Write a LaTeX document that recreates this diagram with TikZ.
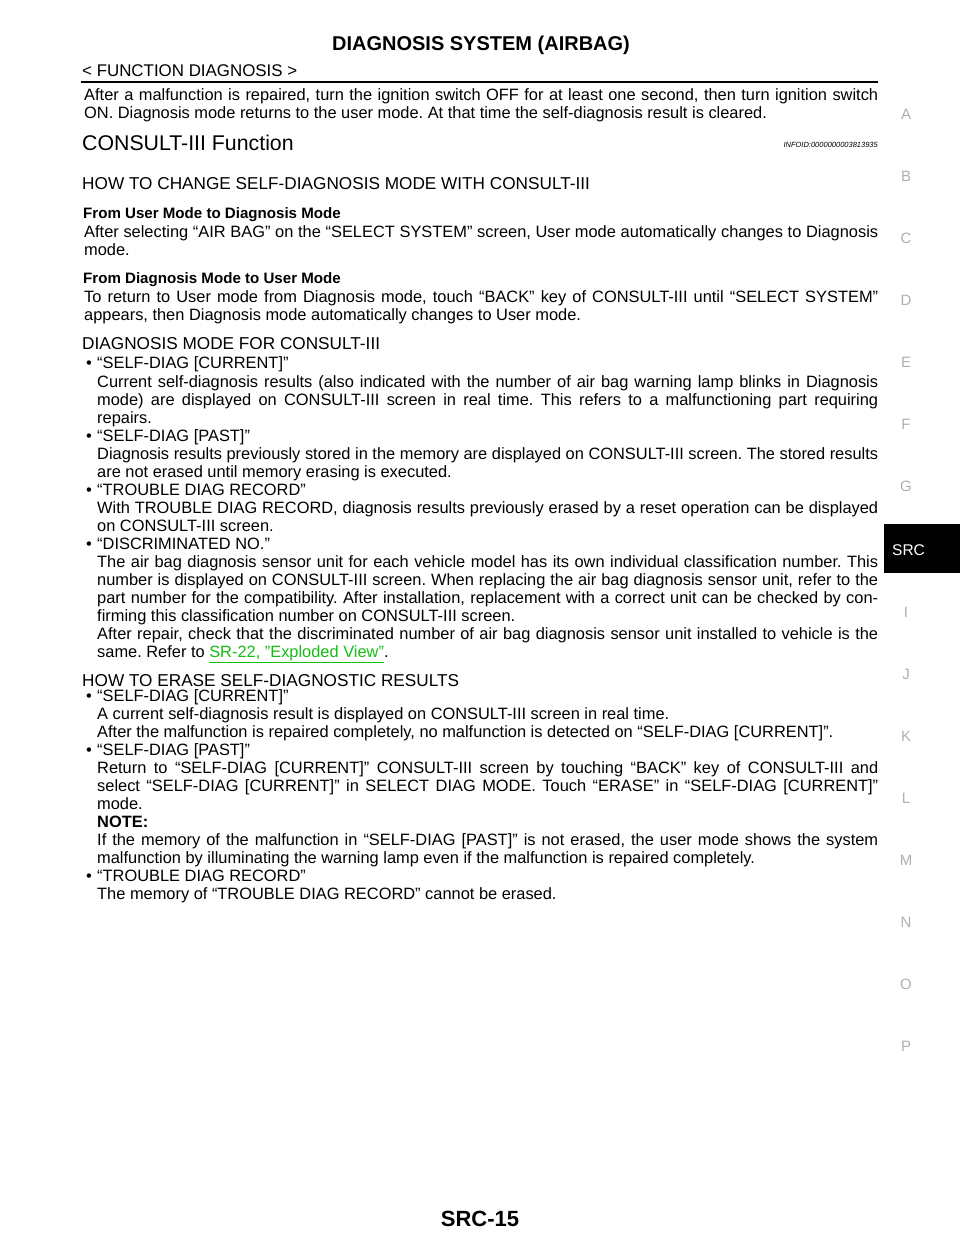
\documentclass[tikz,border=0pt]{standalone}
\usepackage{fontspec}
\setmainfont{Liberation Sans}
\definecolor{linkgreen}{RGB}{20,190,20}
\definecolor{tabgray}{RGB}{175,175,175}
\tikzset{
  txt/.style={anchor=base west,inner sep=0pt,font=\fontsize{16.4}{18}\selectfont},
  head/.style={txt,font=\fontsize{17.2}{20}\selectfont},
  tab/.style={anchor=base,inner sep=0pt,text=tabgray,font=\fontsize{15}{16}\selectfont}
}
\frenchspacing
% justified line and left line
\newcommand\jline[3]{\node[txt] at (#1,-#2) {\makebox[\dimexpr878pt-#1pt\relax][s]{#3}};}
\newcommand\lline[3]{\node[txt] at (#1,-#2) {#3};}
\newcommand\bline[2]{\node[txt] at (86,-#1) {\textbullet}; \lline{97}{#1}{#2}}
\begin{document}
\begin{tikzpicture}[x=1pt,y=1pt]
\useasboundingbox (0,0) rectangle (960,-1242);
\node[anchor=base,inner sep=0pt,font=\fontsize{20}{24}\selectfont\bfseries] (title) at (481,-50) {DIAGNOSIS SYSTEM (AIRBAG)};
\node[txt,font=\fontsize{16.9}{18}\selectfont] (sect) at (82,-76) {< FUNCTION DIAGNOSIS >};
\draw[line width=1.6pt] (81,-82) -- (878,-82);
\jline{84}{100}{After a malfunction is repaired, turn the ignition switch OFF for at least one second, then turn ignition switch}
\lline{84}{118}{ON. Diagnosis mode returns to the user mode. At that time the self-diagnosis result is cleared.}
\node[txt,font=\fontsize{21.3}{24}\selectfont] (func) at (82,-150) {CONSULT-III Function};
\node[anchor=base east,inner sep=0pt,font=\fontsize{7.5}{9}\itshape] (infoid) at (878,-147) {INFOID:0000000003813935};
\node[head] (hchange) at (82,-189) {HOW TO CHANGE SELF-DIAGNOSIS MODE WITH CONSULT-III};
\node[txt,font=\fontsize{15.1}{16}\selectfont\bfseries] (fuser) at (83,-218) {From User Mode to Diagnosis Mode};
\jline{84}{237}{After selecting “AIR BAG” on the “SELECT SYSTEM” screen, User mode automatically changes to Diagnosis}
\lline{84}{255}{mode.}
\node[txt,font=\fontsize{15.1}{16}\selectfont\bfseries] (fdiag) at (83,-283) {From Diagnosis Mode to User Mode};
\jline{84}{302}{To return to User mode from Diagnosis mode, touch “BACK” key of CONSULT-III until “SELECT SYSTEM”}
\lline{84}{320}{appears, then Diagnosis mode automatically changes to User mode.}
\node[head] (hmode) at (82,-349) {DIAGNOSIS MODE FOR CONSULT-III};
\bline{368}{“SELF-DIAG [CURRENT]”}
\jline{97}{387}{Current self-diagnosis results (also indicated with the number of air bag warning lamp blinks in Diagnosis}
\jline{97}{405}{mode) are displayed on CONSULT-III screen in real time. This refers to a malfunctioning part requiring}
\lline{97}{423}{repairs.}
\bline{441}{“SELF-DIAG [PAST]”}
\jline{97}{459}{Diagnosis results previously stored in the memory are displayed on CONSULT-III screen. The stored results}
\lline{97}{477}{are not erased until memory erasing is executed.}
\bline{495}{“TROUBLE DIAG RECORD”}
\jline{97}{513}{With TROUBLE DIAG RECORD, diagnosis results previously erased by a reset operation can be displayed}
\lline{97}{531}{on CONSULT-III screen.}
\bline{549}{“DISCRIMINATED NO.”}
\jline{97}{567}{The air bag diagnosis sensor unit for each vehicle model has its own individual classification number. This}
\jline{97}{585}{number is displayed on CONSULT-III screen. When replacing the air bag diagnosis sensor unit, refer to the}
\jline{97}{603}{part number for the compatibility. After installation, replacement with a correct unit can be checked by con-}
\lline{97}{621}{firming this classification number on CONSULT-III screen.}
\jline{97}{639}{After repair, check that the discriminated number of air bag diagnosis sensor unit installed to vehicle is the}
\lline{97}{657}{same. Refer to \textcolor{linkgreen}{\underline{SR-22, "Exploded View"}}.}
\node[head] (herase) at (82,-686) {HOW TO ERASE SELF-DIAGNOSTIC RESULTS};
\bline{701}{“SELF-DIAG [CURRENT]”}
\lline{97}{719}{A current self-diagnosis result is displayed on CONSULT-III screen in real time.}
\lline{97}{737}{After the malfunction is repaired completely, no malfunction is detected on “SELF-DIAG [CURRENT]”.}
\bline{755}{“SELF-DIAG [PAST]”}
\jline{97}{773}{Return to “SELF-DIAG [CURRENT]” CONSULT-III screen by touching “BACK” key of CONSULT-III and}
\jline{97}{791}{select “SELF-DIAG [CURRENT]” in SELECT DIAG MODE. Touch “ERASE” in “SELF-DIAG [CURRENT]”}
\lline{97}{809}{mode.}
\lline{97}{827}{\bfseries NOTE:}
\jline{97}{845}{If the memory of the malfunction in “SELF-DIAG [PAST]” is not erased, the user mode shows the system}
\lline{97}{863}{malfunction by illuminating the warning lamp even if the malfunction is repaired completely.}
\bline{881}{“TROUBLE DIAG RECORD”}
\lline{97}{899}{The memory of “TROUBLE DIAG RECORD” cannot be erased.}
% side tabs
\foreach \t [count=\i from 0] in {A,B,C,D,E,F,G}
  \node[tab] (tab\t) at (906,-119-62*\i) {\t};
\fill[black] (884,-524) rectangle (960,-573);
\node[anchor=base west,inner sep=0pt,text=white,font=\fontsize{15.5}{16}\selectfont] (tabSRC) at (892,-555) {SRC};
\foreach \t [count=\i from 0] in {I,J,K,L,M,N,O,P}
  \node[tab] (tab\t) at (906,-617-62*\i) {\t};
\node[anchor=base,inner sep=0pt,font=\fontsize{22}{26}\selectfont\bfseries] (page) at (480,-1226) {SRC-15};
\end{tikzpicture}
\end{document}
